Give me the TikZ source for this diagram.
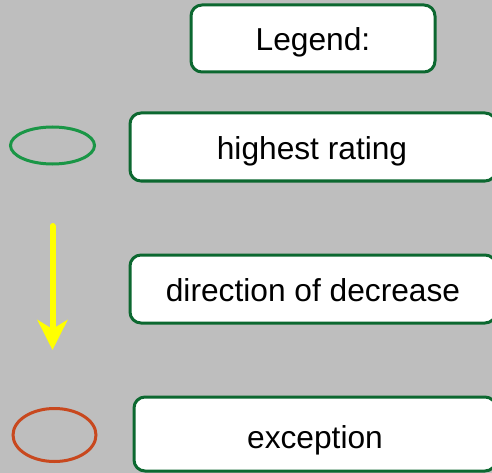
\documentclass[tikz,border=0pt]{standalone}
\usepackage{fontspec}
\setmainfont{Liberation Sans}
\usetikzlibrary{arrows.meta}
\definecolor{bg}{RGB}{190,190,190}
\definecolor{boxgreen}{RGB}{12,104,48}
\definecolor{ellgreen}{RGB}{26,150,70}
\definecolor{ellred}{RGB}{200,72,30}
\definecolor{arrowyellow}{RGB}{255,255,0}
\tikzset{
  legbox/.style={draw=boxgreen, line width=3pt, fill=white, rounded corners=11pt},
  legtext/.style={anchor=base, inner sep=0pt, font=\fontsize{31.7}{38}\selectfont},
  legell/.style={line width=3pt}
}
\begin{document}
\begin{tikzpicture}[x=1pt,y=-1pt]
\useasboundingbox (0,0) rectangle (492,473);
\fill[bg] (0,0) rectangle (492,473);
% boxes
\draw[legbox] (191,5) rectangle (435,72);
\node[legtext] (legend) at (313,51) {Legend:};
\draw[legbox] (130,113) rectangle (496,181);
\node[legtext] (high) at (312,160) {highest rating};
\draw[legbox] (130,255) rectangle (496,323);
\node[legtext] (dir) at (313,301) {direction of decrease};
\draw[legbox] (134,397) rectangle (496,471);
\node[legtext] (exc) at (315,448) {exception};
% symbols
\draw[legell, ellgreen] (52.5,145.5) ellipse [x radius=42, y radius=18.5];
\draw[legell, ellred] (54.5,435) ellipse [x radius=41.5, y radius=26.5];
\coordinate (astart) at (52.5,226);
\coordinate (aend) at (52.5,350);
\draw[arrowyellow, line width=6pt, line cap=round, -{Stealth[length=30pt, width=30pt, inset=9pt]}] (astart) -- (aend);
\end{tikzpicture}
\end{document}
